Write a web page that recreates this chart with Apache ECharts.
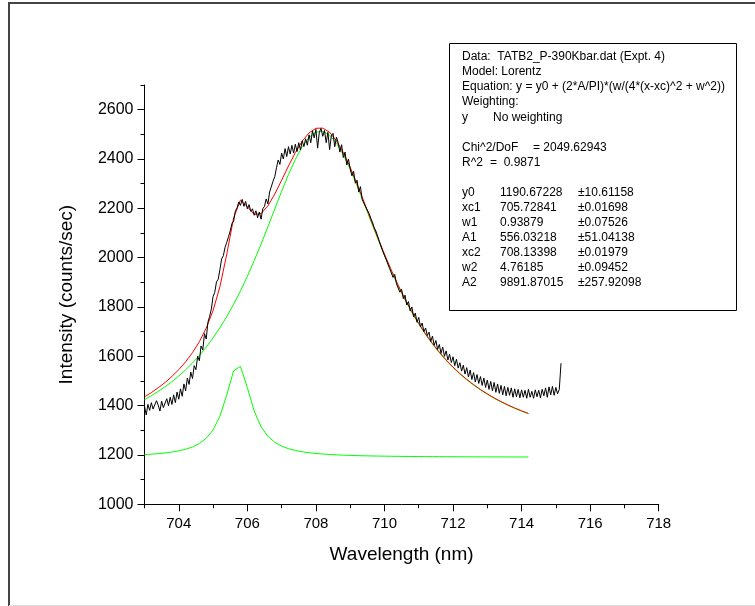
<!DOCTYPE html>
<html>
<head>
<meta charset="utf-8">
<script src="https://cdn.jsdelivr.net/npm/echarts@6/dist/echarts.min.js"></script>
<style>
html,body{margin:0;padding:0;background:#fff;}
#chart{width:755px;height:606px;}
</style>
</head>
<body>
<div id="chart"></div>
<script>
// ---- Data ----
const xTickLabels = [704, 706, 708, 710, 712, 714, 716, 718];
const xMinorTicks = [703, 705, 707, 709, 711, 713, 715, 717];
const yTickLabels = [1000, 1200, 1400, 1600, 1800, 2000, 2200, 2400, 2600];
const yMinorTicks = [1100, 1300, 1500, 1700, 1900, 2100, 2300, 2500, 2700];

// fit curve wavelengths (nm)
const fitX = [703,703.2,703.4,703.6,703.8,704,704.2,704.4,704.6,704.8,705,705.2,705.4,705.6,705.8,706,706.2,706.4,706.6,706.8,707,707.2,707.4,707.6,707.8,708,708.2,708.4,708.6,708.8,709,709.2,709.4,709.6,709.8,710,710.2,710.4,710.6,710.8,711,711.2,711.4,711.6,711.8,712,712.2,712.4,712.6,712.8,713,713.2,713.4,713.6,713.8,714,714.2];
// Lorentz peak 1 (green, small)
const peak1 = [1201.5,1203.2,1205.4,1208.2,1211.8,1216.6,1223.2,1232.5,1246.3,1267.5,1301.3,1357.0,1443.8,1541.5,1559.2,1473.2,1378.3,1314.4,1275.4,1251.4,1235.9,1225.5,1218.3,1213.0,1209.1,1206.1,1203.8,1202.0,1200.5,1199.3,1198.3,1197.4,1196.7,1196.1,1195.6,1195.2,1194.8,1194.4,1194.1,1193.9,1193.6,1193.4,1193.2,1193.1,1192.9,1192.8,1192.6,1192.5,1192.4,1192.3,1192.2,1192.1,1192.1,1192.0,1191.9,1191.9,1191.8];
// Lorentz peak 2 (green, broad)
const peak2 = [1424.7,1440.5,1457.7,1476.5,1497.3,1520.1,1545.2,1572.9,1603.5,1637.3,1674.6,1715.8,1761.1,1810.8,1865.1,1924.1,1987.5,2054.9,2125.2,2197.2,2268.6,2336.8,2398.4,2449.8,2487.6,2509.0,2512.1,2496.9,2464.4,2417.2,2358.6,2292.3,2221.7,2149.6,2078.5,2009.9,1945.1,1884.6,1828.7,1777.4,1730.7,1688.2,1649.6,1614.7,1583.0,1554.3,1528.3,1504.8,1483.4,1463.9,1446.1,1429.9,1415.1,1401.6,1389.1,1377.7,1367.2];
// cumulative fit (red)
const fitSum = [1435.6,1453.0,1472.4,1494.0,1518.4,1546.0,1577.7,1614.8,1659.2,1714.1,1785.3,1882.1,2014.1,2161.6,2233.6,2206.6,2175.1,2178.6,2210.0,2257.9,2313.8,2371.6,2425.9,2472.1,2506.0,2524.4,2525.3,2508.2,2474.2,2425.8,2366.2,2299.1,2227.7,2155.1,2083.4,2014.4,1949.2,1888.4,1832.2,1780.6,1733.6,1690.9,1652.2,1617.0,1585.2,1556.4,1530.3,1506.6,1485.1,1465.5,1447.7,1431.4,1416.5,1402.9,1390.4,1378.9,1368.4];

// measured spectrum (black)
const dataX = [
703,703.05,703.1,703.15,703.2,703.25,703.3,703.35,703.4,703.45,703.5,703.55,703.6,703.65,703.7,703.75,703.8,703.85,703.9,703.95,
704,704.05,704.1,704.15,704.2,704.25,704.3,704.35,704.4,704.45,704.5,704.55,704.6,704.65,704.7,704.75,704.8,704.85,704.9,704.95,
705,705.05,705.1,705.15,705.2,705.25,705.3,705.35,705.4,705.45,705.5,705.55,705.6,705.65,705.7,705.75,705.8,705.85,705.9,705.95,
706,706.05,706.1,706.15,706.2,706.25,706.3,706.35,706.4,706.45,706.5,706.55,706.6,706.65,706.7,706.75,706.8,706.85,706.9,706.95,
707,707.05,707.1,707.15,707.2,707.25,707.3,707.35,707.4,707.45,707.5,707.55,707.6,707.65,707.7,707.75,707.8,707.85,707.9,707.95,
708,708.05,708.1,708.15,708.2,708.25,708.3,708.35,708.4,708.45,708.5,708.55,708.6,708.65,708.7,708.75,708.8,708.85,708.9,708.95,
709,709.05,709.1,709.15,709.2,709.25,709.3,709.35,709.4,709.45,709.5,709.55,709.6,709.65,709.7,709.75,709.8,709.85,709.9,709.95,
710,710.05,710.1,710.15,710.2,710.25,710.3,710.35,710.4,710.45,710.5,710.55,710.6,710.65,710.7,710.75,710.8,710.85,710.9,710.95,
711,711.05,711.1,711.15,711.2,711.25,711.3,711.35,711.4,711.45,711.5,711.55,711.6,711.65,711.7,711.75,711.8,711.85,711.9,711.95,
712,712.05,712.1,712.15,712.2,712.25,712.3,712.35,712.4,712.45,712.5,712.55,712.6,712.65,712.7,712.75,712.8,712.85,712.9,712.95,
713,713.05,713.1,713.15,713.2,713.25,713.3,713.35,713.4,713.45,713.5,713.55,713.6,713.65,713.7,713.75,713.8,713.85,713.9,713.95,
714,714.05,714.1,714.15,714.2,714.25,714.3,714.35,714.4,714.45,714.5,714.55,714.6,714.65,714.7,714.75,714.8,714.85,714.9,714.95,
715,715.05,715.1,715.15];
const dataY = [
1398,1362,1405,1381,1412,1386,1394,1420,1402,1378,1418,1392,1396,1428,1400,1434,1405,1444,1412,1455,
1426,1468,1438,1488,1460,1512,1486,1536,1510,1562,1546,1600,1582,1642,1626,1692,1670,1738,1762,1792,
1842,1860,1902,1912,1952,1995,2008,2042,2062,2085,2108,2138,2148,2188,2202,2226,2212,2236,2208,2228,
2198,2215,2188,2198,2172,2190,2162,2185,2156,2198,2208,2238,2218,2266,2272,2310,2328,2364,2396,2378,
2424,2400,2442,2410,2450,2420,2455,2424,2460,2430,2466,2436,2474,2450,2482,2456,2498,2466,2514,2486,
2520,2444,2508,2524,2492,2516,2466,2508,2438,2494,2504,2450,2488,2466,2428,2458,2406,2428,2376,2400,
2360,2332,2350,2302,2314,2266,2288,2236,2234,2206,2198,2180,2160,2144,2122,2108,2088,2066,2062,2026,
2024,1992,1992,1956,1958,1920,1932,1894,1898,1860,1872,1834,1848,1808,1822,1784,1800,1760,1775,1738,
1758,1720,1735,1700,1715,1684,1698,1660,1682,1645,1664,1628,1648,1612,1638,1600,1622,1585,1608,1575,
1598,1562,1588,1552,1574,1540,1564,1528,1554,1516,1544,1506,1534,1496,1526,1490,1518,1482,1512,1474,
1504,1466,1498,1460,1494,1454,1488,1450,1482,1444,1478,1440,1474,1442,1472,1434,1468,1436,1466,1432,
1464,1434,1462,1430,1466,1434,1458,1430,1464,1436,1462,1432,1466,1440,1472,1434,1476,1444,1478,1442,
1474,1448,1466,1572];

// text box content
const boxHeader = [
  'Data:  TATB2_P-390Kbar.dat (Expt. 4)',
  'Model: Lorentz',
  'Equation: y = y0 + (2*A/PI)*(w/(4*(x-xc)^2 + w^2))',
  'Weighting:'
];
const paramNames = ['y0', 'xc1', 'w1', 'A1', 'xc2', 'w2', 'A2'];
const paramValues = ['1190.67228', '705.72841', '0.93879', '556.03218', '708.13398', '4.76185', '9891.87015'];
const paramErrors = ['\u00b110.61158', '\u00b10.01698', '\u00b10.07526', '\u00b151.04138', '\u00b10.01979', '\u00b10.09452', '\u00b1257.92098'];

// ---- Chart ----
const FONT = '"Liberation Sans", Arial, sans-serif';
const chart = echarts.init(document.getElementById('chart'), null, {renderer: 'canvas'});

const zip = (xs, ys) => xs.map((x, i) => [x, ys[i]]);

const graphics = [];
// outer frame
graphics.push({type: 'line', shape: {x1: 8, y1: 3, x2: 755, y2: 3}, style: {stroke: '#444', lineWidth: 2}, silent: true});
graphics.push({type: 'line', shape: {x1: 9, y1: 3, x2: 9, y2: 606}, style: {stroke: '#444', lineWidth: 2}, silent: true});
graphics.push({type: 'line', shape: {x1: 9, y1: 605.5, x2: 755, y2: 605.5}, style: {stroke: '#dddddd', lineWidth: 1}, silent: true});
// text box
graphics.push({type: 'rect', shape: {x: 449.5, y: 43.5, width: 287, height: 267}, style: {fill: '#fff', stroke: '#000', lineWidth: 1}, z: 10});
const tx = 462, lh = 15.05, ty0 = 57;
function addText(t, x, row) {
  graphics.push({type: 'text', x: x, y: ty0 + row * lh, z: 11,
    style: {text: t, fill: '#000', font: '12px ' + FONT, verticalAlign: 'middle', align: 'left'}});
}
boxHeader.forEach((t, i) => addText(t, tx, i));
addText('y', tx, 4); addText('No weighting', 493, 4);
addText('Chi^2/DoF', tx, 6); addText('= 2049.62943', 533, 6);
addText('R^2', tx, 7); addText('=  0.9871', 490, 7);
paramNames.forEach((n, i) => {
  addText(n, tx, 9 + i);
  addText(paramValues[i], 500, 9 + i);
  addText(paramErrors[i], 578, 9 + i);
});

const axisLineStyle = {color: '#000', width: 1};
const plain = v => String(v);
chart.setOption({
  animation: false,
  backgroundColor: '#fff',
  grid: {left: 144.5, top: 85, width: 514.2, height: 419.3, containLabel: false},
  xAxis: [
    {type: 'value', min: 703, max: 718, interval: 1, position: 'bottom',
      axisLine: {show: true, lineStyle: axisLineStyle},
      axisTick: {show: true, customValues: xTickLabels, length: 7, lineStyle: axisLineStyle},
      axisLabel: {customValues: xTickLabels, formatter: plain, color: '#000', fontSize: 15, fontFamily: FONT, margin: 12},
      splitLine: {show: false},
      name: 'Wavelength (nm)', nameLocation: 'middle', nameGap: 41,
      nameTextStyle: {color: '#000', fontSize: 19, fontFamily: FONT}},
    {type: 'value', min: 703, max: 718, interval: 1, position: 'bottom',
      axisLine: {show: false},
      axisTick: {show: true, customValues: xMinorTicks, length: 4, lineStyle: axisLineStyle},
      axisLabel: {show: false}, splitLine: {show: false}}
  ],
  yAxis: [
    {type: 'value', min: 1000, max: 2700, interval: 100, position: 'left',
      axisLine: {show: true, lineStyle: axisLineStyle},
      axisTick: {show: true, customValues: yTickLabels, length: 7, lineStyle: axisLineStyle},
      axisLabel: {customValues: yTickLabels, formatter: plain, color: '#000', fontSize: 16, fontFamily: FONT, margin: 11},
      splitLine: {show: false},
      name: 'Intensity (counts/sec)', nameLocation: 'middle', nameGap: 68, nameRotate: 90,
      nameTextStyle: {color: '#000', fontSize: 19, fontFamily: FONT}},
    {type: 'value', min: 1000, max: 2700, interval: 100, position: 'left',
      axisLine: {show: false},
      axisTick: {show: true, customValues: yMinorTicks, length: 4, lineStyle: axisLineStyle},
      axisLabel: {show: false}, splitLine: {show: false}}
  ],
  series: [
    {name: 'Peak 1', type: 'line', data: zip(fitX, peak1), showSymbol: false, symbol: 'none',
      lineStyle: {color: '#00ff00', width: 1}, itemStyle: {color: '#00ff00'}, z: 2},
    {name: 'Peak 2', type: 'line', data: zip(fitX, peak2), showSymbol: false, symbol: 'none',
      lineStyle: {color: '#00ff00', width: 1}, itemStyle: {color: '#00ff00'}, z: 2},
    {name: 'Fit', type: 'line', data: zip(fitX, fitSum), showSymbol: false, symbol: 'none',
      lineStyle: {color: '#ff0000', width: 1}, itemStyle: {color: '#ff0000'}, z: 3},
    {name: 'Data', type: 'line', data: zip(dataX, dataY), showSymbol: false, symbol: 'none',
      lineStyle: {color: '#000', width: 1}, itemStyle: {color: '#000'}, z: 4}
  ],
  graphic: graphics
});
</script>
</body>
</html>
